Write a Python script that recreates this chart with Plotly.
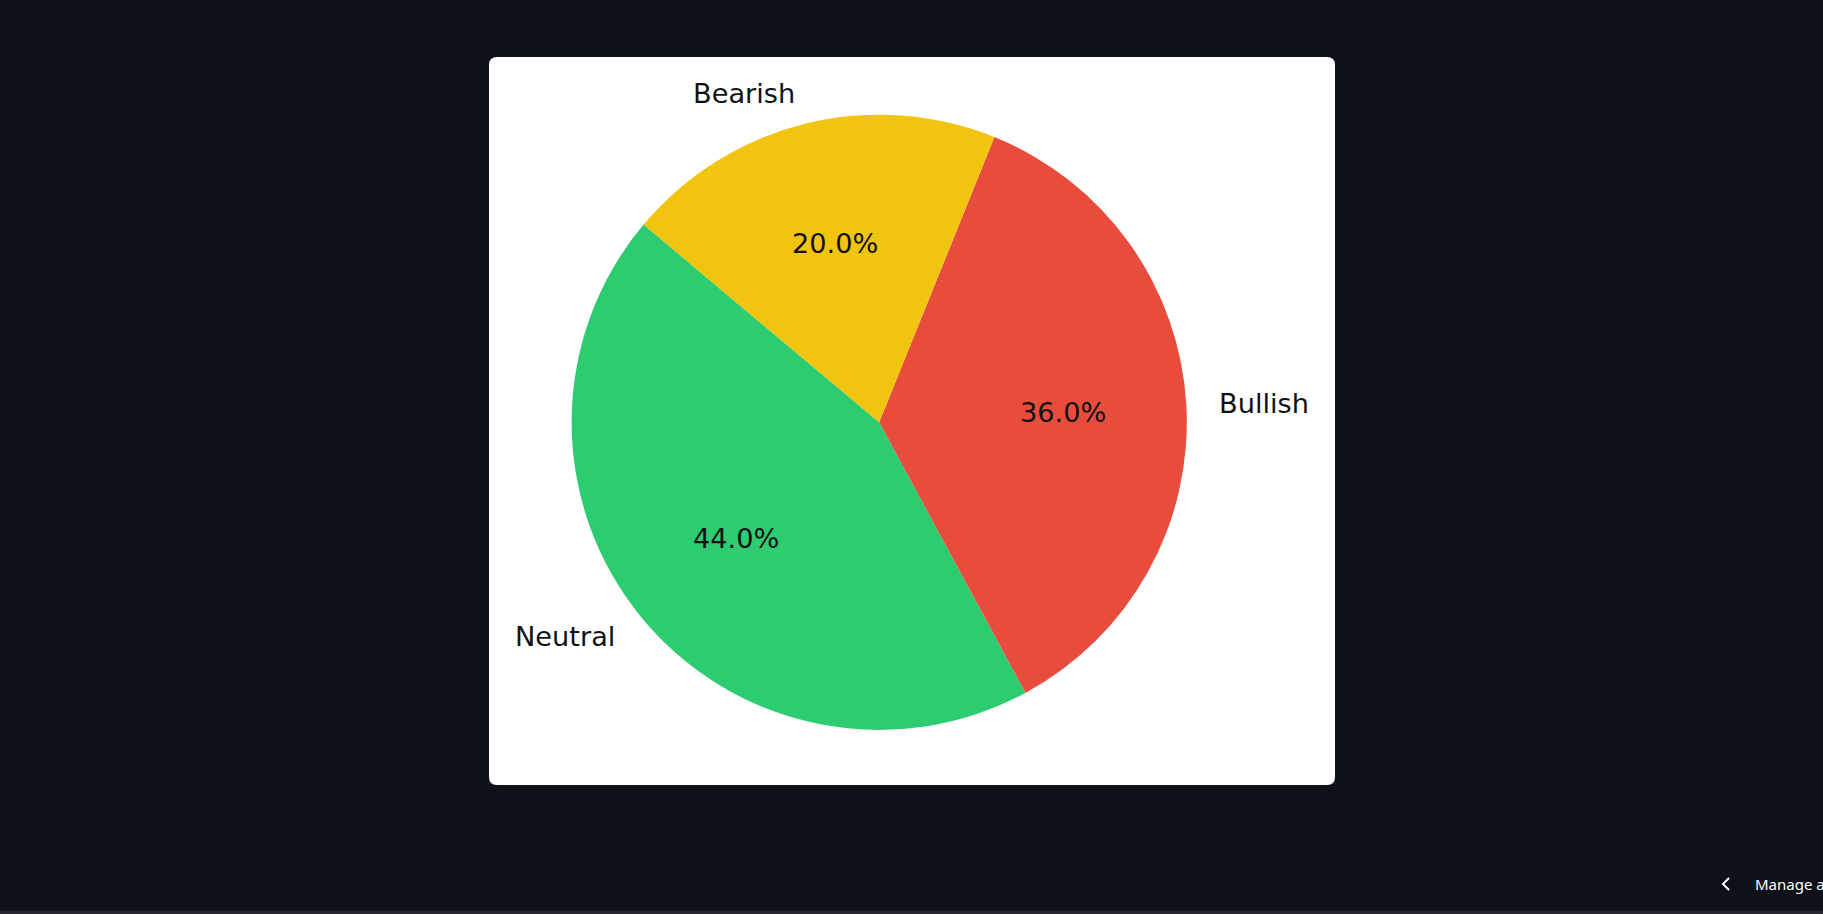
import numpy as np
import plotly.graph_objects as go

# ---- data ----
labels = ["Neutral", "Bullish", "Bearish"]
values = [44, 36, 20]
colors = ["#2ecc71", "#e74c3c", "#f1c40f"]
start_angle = 140  # degrees, counter-clockwise from 3 o'clock

W, H = 1823, 914
BG = "#0e1117"

# pie geometry (pixels, y measured from top)
cx, cy, r = 879.2, 422.3, 307.6
dom_x = [(cx - r) / W, (cx + r) / W]
dom_y = [(H - cy - r) / H, (H - cy + r) / H]
# text axes: same centre, range +-1.2 radius
k = 1.2
ax_x = [(cx - k * r) / W, (cx + k * r) / W]
ax_y = [(H - cy - k * r) / H, (H - cy + k * r) / H]

# card geometry
card = dict(x0=489, x1=1335, y0=57, y1=785, rad=8)

total = float(sum(values))

fig = go.Figure()

# plotly (counterclockwise): first slice sits clockwise of `rotation`
fig.add_trace(go.Pie(
    labels=labels, values=values, sort=False,
    direction="counterclockwise",
    rotation=90 - start_angle - 360.0 * values[0] / total,
    marker=dict(colors=colors, line=dict(width=0)),
    textinfo="none", showlegend=False,
    domain=dict(x=dom_x, y=dom_y),
))

cum = np.cumsum([0] + values[:-1])
mid = np.deg2rad(start_angle + 360.0 * (cum + np.array(values) / 2.0) / total)
lx, ly = 1.1 * np.cos(mid), 1.1 * np.sin(mid)
px, py = 0.6 * np.cos(mid), 0.6 * np.sin(mid)
pct = [f"{100 * v / total:.1f}%" for v in values]

font = dict(family="DejaVu Sans", size=27.2, color="#111111")
annotations = []
for i in range(len(labels)):
    annotations.append(dict(x=lx[i], y=ly[i], xref="x", yref="y", text=labels[i],
                            xanchor="left" if lx[i] > 0 else "right", yanchor="middle",
                            showarrow=False, font=font))
    annotations.append(dict(x=px[i], y=py[i], xref="x", yref="y", text=pct[i],
                            xanchor="center", yanchor="middle", showarrow=False, font=font))

annotations.append(dict(text="Manage app", xref="paper", yref="paper",
                        x=1753 / W, y=1 - 884 / H, xanchor="left", yanchor="middle",
                        showarrow=False, font=dict(family="Noto Sans", size=15, color="white")))


def rounded_rect(x0, y0, x1, y1, rad):
    fx = lambda v: v / W
    fy = lambda v: 1 - v / H
    p = (f"M {fx(x0 + rad)} {fy(y0)} L {fx(x1 - rad)} {fy(y0)} "
         f"Q {fx(x1)} {fy(y0)} {fx(x1)} {fy(y0 + rad)} "
         f"L {fx(x1)} {fy(y1 - rad)} Q {fx(x1)} {fy(y1)} {fx(x1 - rad)} {fy(y1)} "
         f"L {fx(x0 + rad)} {fy(y1)} Q {fx(x0)} {fy(y1)} {fx(x0)} {fy(y1 - rad)} "
         f"L {fx(x0)} {fy(y0 + rad)} Q {fx(x0)} {fy(y0)} {fx(x0 + rad)} {fy(y0)} Z")
    return p


shapes = [
    dict(type="path", xref="paper", yref="paper", layer="below",
         path=rounded_rect(card["x0"], card["y0"], card["x1"], card["y1"], card["rad"]),
         fillcolor="white", line=dict(width=0)),
    dict(type="rect", xref="paper", yref="paper", layer="below",
         x0=0, x1=1, y0=0, y1=3.5 / H, fillcolor="#262730", line=dict(width=0)),
    dict(type="path", xref="paper", yref="paper",
         path=f"M {1729 / W} {1 - 878 / H} L {1723 / W} {1 - 884 / H} L {1729 / W} {1 - 890 / H}",
         line=dict(color="white", width=2)),
]

fig.update_layout(
    width=W, height=H, margin=dict(l=0, r=0, t=0, b=0),
    paper_bgcolor=BG, plot_bgcolor="rgba(0,0,0,0)",
    xaxis=dict(domain=ax_x, range=[-k, k], visible=False, fixedrange=True),
    yaxis=dict(domain=ax_y, range=[-k, k], visible=False, fixedrange=True),
    shapes=shapes,
    annotations=annotations,
)

fig.write_html("out.html", config={"displayModeBar": False},
               post_script="document.body.style.margin='0';document.body.style.background='#0e1117';document.body.style.overflow='hidden';")
